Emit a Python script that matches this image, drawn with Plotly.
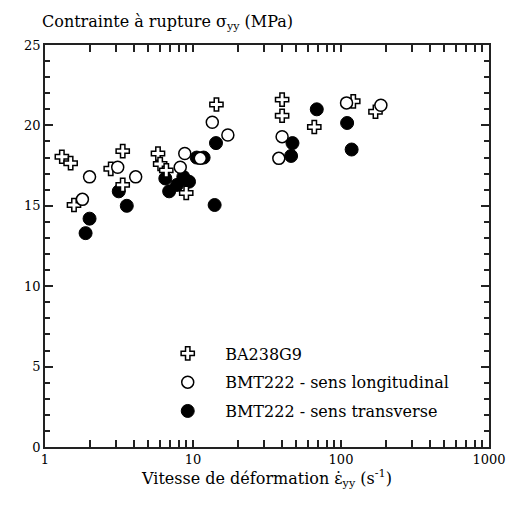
import plotly.graph_objects as go

# BA238G9 (crosses)
ba_rate = [1.30, 1.49, 1.57, 2.78, 3.35, 3.35, 5.8, 6.0, 6.6, 9.0, 14.4, 40, 40, 66, 121, 171]
ba_stress = [18.05, 17.65, 15.05, 17.3, 18.4, 16.3, 18.25, 17.6, 17.2, 15.8, 21.3, 21.6, 20.6, 19.9, 21.5, 20.85]

# BMT222 - sens longitudinal (open circles)
lon_rate = [1.79, 2.0, 3.1, 4.1, 8.2, 8.8, 11.2, 13.5, 17.2, 38, 40, 109, 186]
lon_stress = [15.4, 16.8, 17.4, 16.8, 17.4, 18.25, 17.95, 20.2, 19.4, 17.95, 19.3, 21.4, 21.25]

# BMT222 - sens transverse (filled circles)
tra_rate = [1.88, 2.0, 3.15, 3.57, 6.5, 6.9, 7.8, 8.6, 9.4, 10.6, 11.8, 14.0, 14.3, 46, 47, 68.6, 110, 118]
tra_stress = [13.3, 14.2, 15.9, 15.0, 16.7, 15.9, 16.3, 16.8, 16.5, 18.0, 18.0, 15.05, 18.9, 18.1, 18.9, 21.0, 20.15, 18.5]

# x ticks: every integer multiple inside each decade, labels only on decades
x_ticks = [m * d for d in (1, 10, 100) for m in range(1, 10)] + [1000]
x_labels = [str(v) if v in (1, 10, 100, 1000) else "" for v in x_ticks]

FONT = "DejaVu Serif, Liberation Serif, serif"
AX = "#222"

fig = go.Figure()
fig.add_trace(go.Scatter(
    x=tra_rate, y=tra_stress, mode="markers", name="BMT222 - sens transverse",
    legendrank=3, legendgroup="c",
    marker=dict(symbol="circle", size=13, color="black", line=dict(color="black", width=1)),
))
fig.add_trace(go.Scatter(
    x=ba_rate, y=ba_stress, mode="markers", name="BA238G9",
    legendrank=1, legendgroup="a",
    marker=dict(symbol="cross", size=11, color="white", line=dict(color="black", width=1.5)),
))
fig.add_trace(go.Scatter(
    x=lon_rate, y=lon_stress, mode="markers", name="BMT222 - sens longitudinal",
    legendrank=2, legendgroup="b",
    marker=dict(symbol="circle", size=12, color="white", line=dict(color="black", width=1.5)),
))

fig.update_layout(
    xaxis=dict(
        type="log", range=[0, 3],
        tickmode="array", tickvals=x_ticks, ticktext=x_labels,
        ticks="inside", ticklen=7, tickwidth=1.5, tickcolor=AX,
        showline=True, linecolor=AX, linewidth=1.5, mirror="ticks",
        showgrid=False, zeroline=False,
        tickfont=dict(family=FONT, size=13, color="black"),
        title=dict(text="Vitesse de déformation ε̇<sub>yy</sub> (s<sup>-1</sup>)",
                   font=dict(family=FONT, size=16, color="black"), standoff=6),
    ),
    yaxis=dict(
        range=[0, 25], dtick=5,
        ticks="inside", ticklen=8, tickwidth=1.5, tickcolor=AX,
        minor=dict(ticks="inside", dtick=1, ticklen=5, tickwidth=1.5, tickcolor=AX, showgrid=False),
        showline=True, linecolor=AX, linewidth=1.5, mirror="ticks",
        showgrid=False, zeroline=False,
        tickfont=dict(family=FONT, size=13, color="black"),
    ),
)

fig.add_annotation(
    text="Contrainte à rupture σ<sub>yy</sub> (MPa)", xref="paper", yref="paper",
    x=-0.011, y=1.057, xanchor="left", yanchor="middle", showarrow=False,
    font=dict(family=FONT, size=16, color="black"),
)

fig.update_layout(
    width=518, height=514,
    margin=dict(l=45, r=19, t=45, b=67),
    paper_bgcolor="white", plot_bgcolor="white",
    showlegend=True,
    legend=dict(
        x=0.237, y=0.275, xanchor="left", yanchor="top",
        bgcolor="rgba(0,0,0,0)", borderwidth=0,
        font=dict(family=FONT, size=16, color="black"),
        itemwidth=65, tracegroupgap=5,
    ),
)

fig.write_html("out.html", config={"displayModeBar": False},
               post_script="document.body.style.margin='0';")
